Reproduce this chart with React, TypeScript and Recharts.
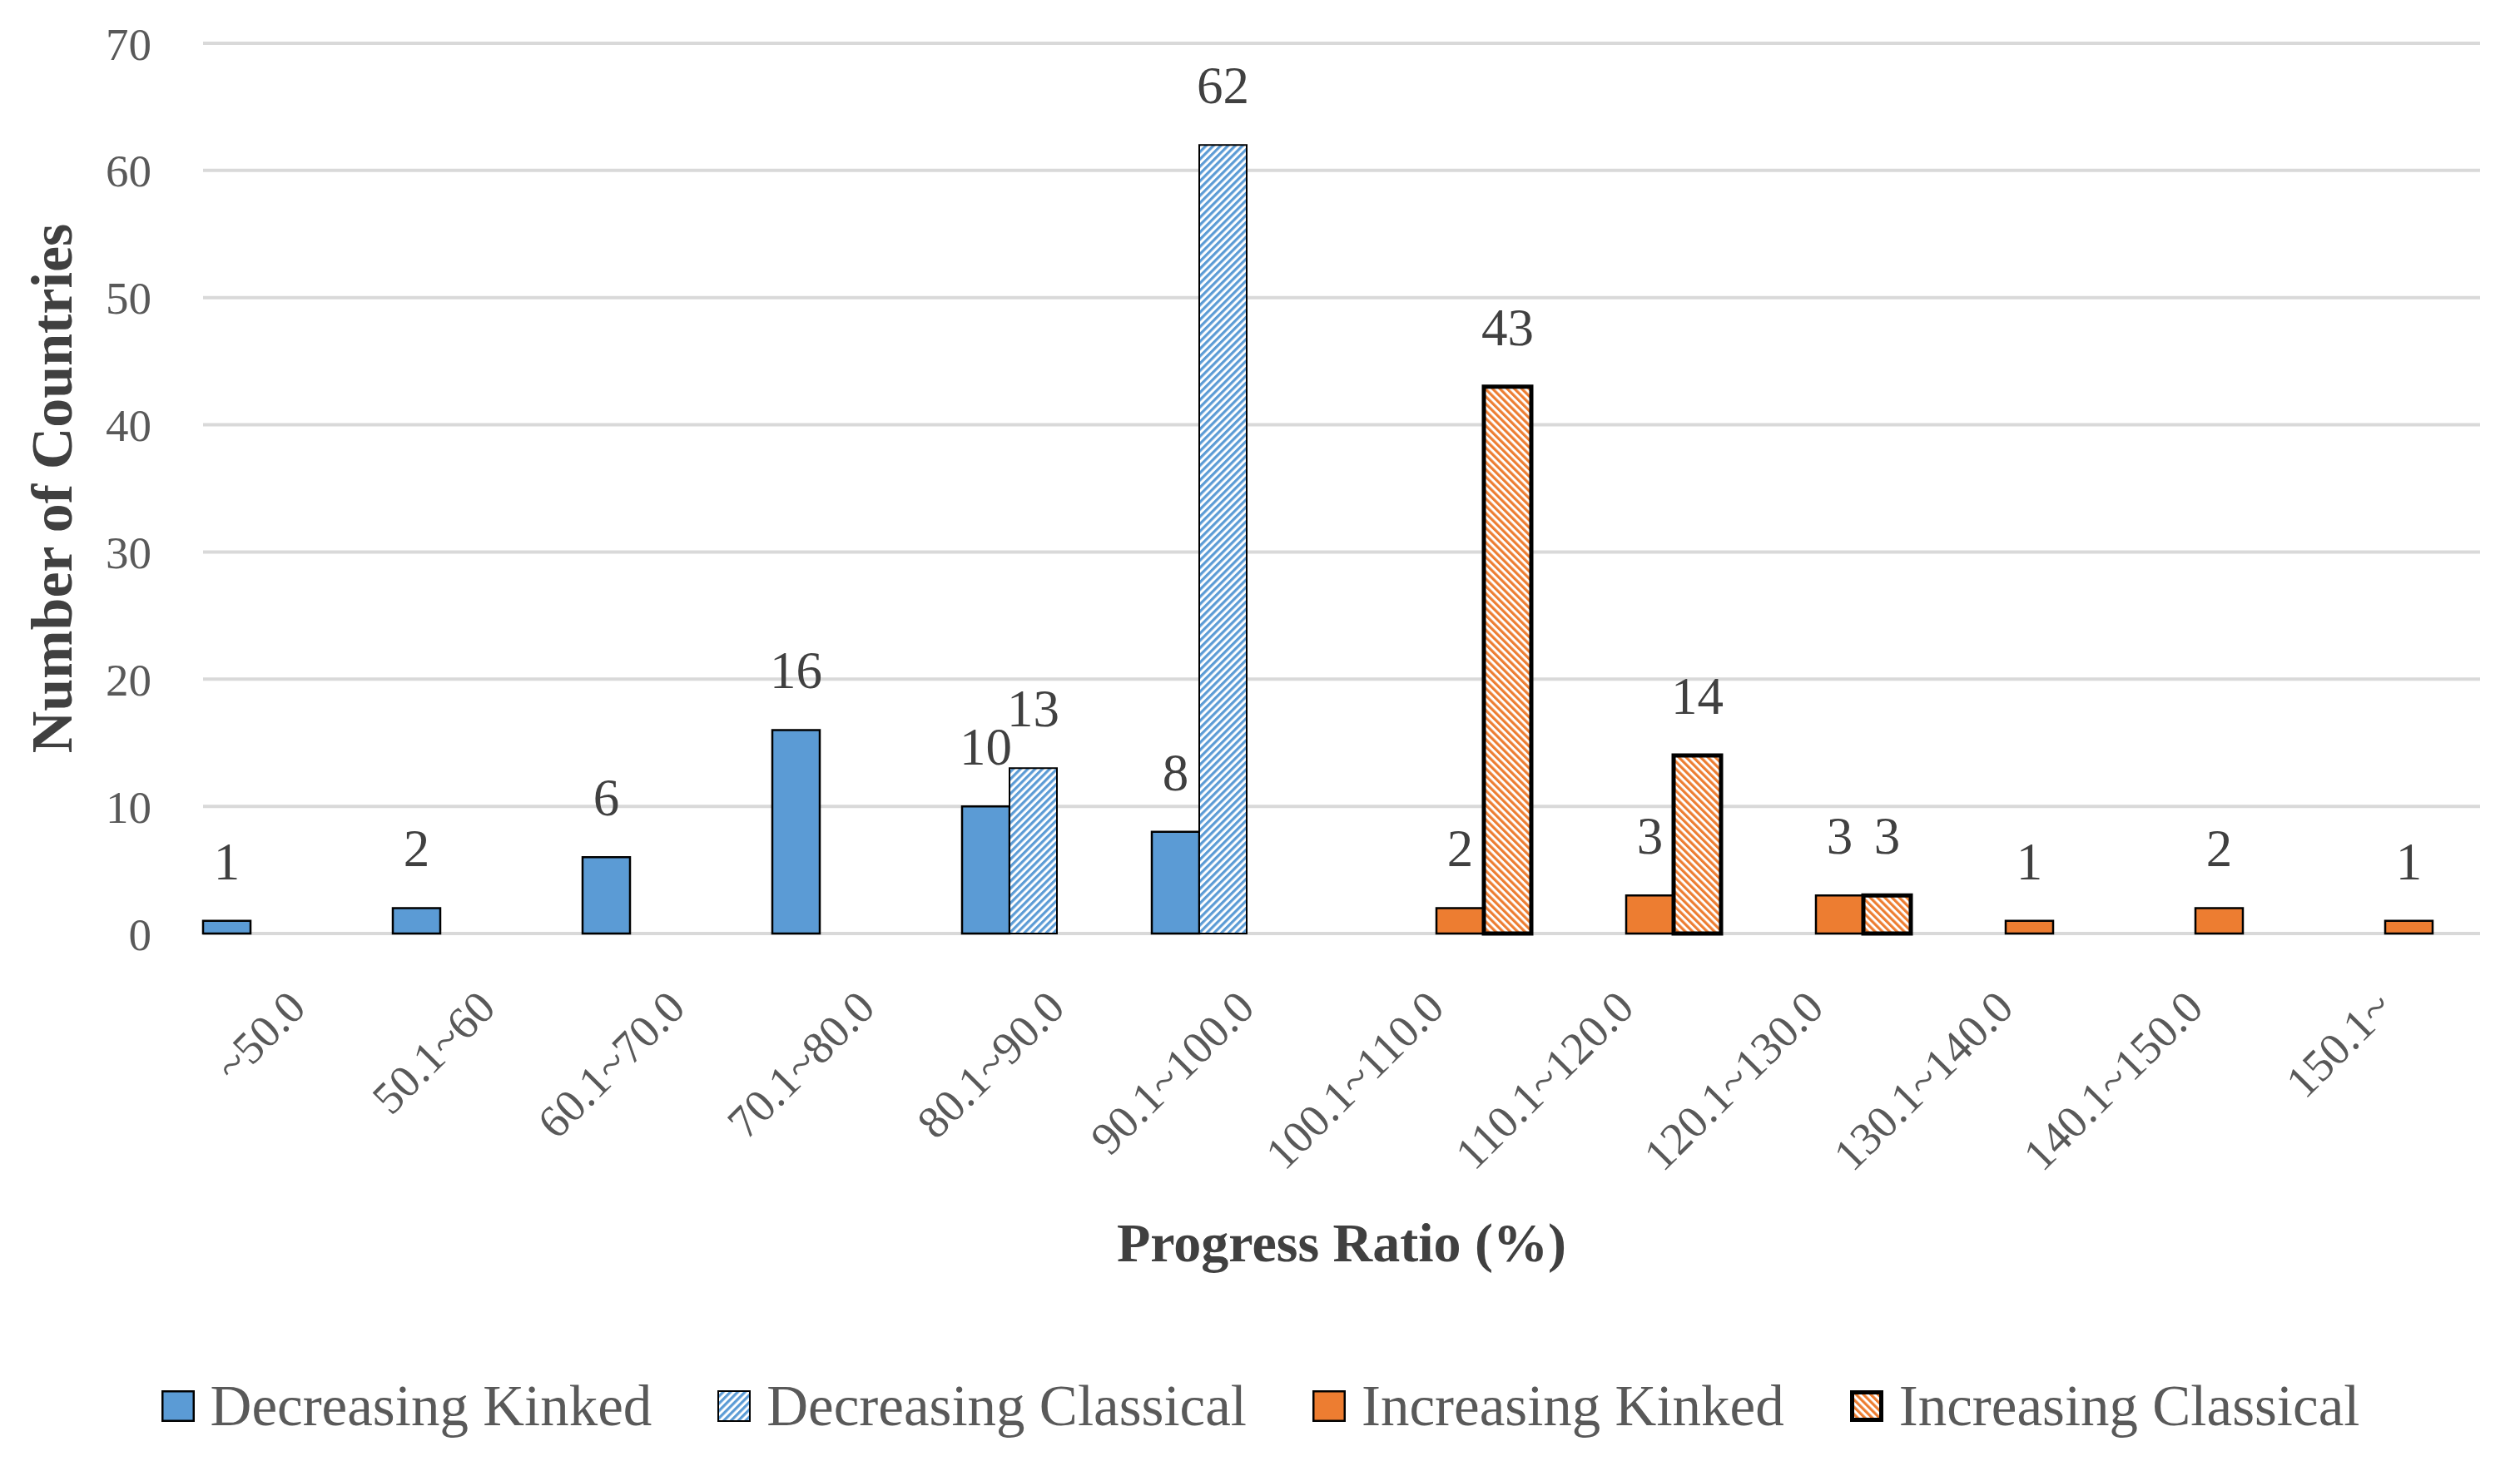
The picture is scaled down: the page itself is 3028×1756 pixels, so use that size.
import { BarChart, Bar, XAxis, YAxis, CartesianGrid, LabelList } from "recharts";

// ── Data ──────────────────────────────────────────────────────────────────────

const CATEGORIES = [
  "~50.0", "50.1~60", "60.1~70.0", "70.1~80.0", "80.1~90.0", "90.1~100.0",
  "100.1~110.0", "110.1~120.0", "120.1~130.0", "130.1~140.0", "140.1~150.0", "150.1~",
];
const DEC_KINKED    = [1, 2, 6, 16, 10, 8, 0, 0, 0, 0, 0, 0];
const DEC_CLASSICAL = [0, 0, 0, 0, 13, 62, 0, 0, 0, 0, 0, 0];
const INC_KINKED    = [0, 0, 0, 0, 0, 0, 2, 3, 3, 1, 2, 1];
const INC_CLASSICAL = [0, 0, 0, 0, 0, 0, 43, 14, 3, 0, 0, 0];
const Y_TICKS = [0, 10, 20, 30, 40, 50, 60, 70];

const data = CATEGORIES.map((c, i) => ({
  cat: c,
  decKinked: DEC_KINKED[i],
  decClassical: DEC_CLASSICAL[i],
  incKinked: INC_KINKED[i],
  incClassical: INC_CLASSICAL[i],
}));

// ── Style ─────────────────────────────────────────────────────────────────────

const FONT = '"Liberation Serif", "Times New Roman", serif';
const BLUE = "#5B9BD5";
const ORANGE = "#ED7D31";
const GRID = "#D9D9D9";
const TEXT = "#595959";
const DARK = "#404040";
const HATCH = 6.2;   // stripe period
const STRIPE = 3.2;  // coloured part of the period

const SERIES = [
  { key: "decKinked",    name: "Decreasing Kinked",    fill: BLUE,                stroke: "#000", sw: 2.5 },
  { key: "decClassical", name: "Decreasing Classical", fill: "url(#hatchBlue)",   stroke: "#000", sw: 2 },
  { key: "incKinked",    name: "Increasing Kinked",    fill: ORANGE,              stroke: "#000", sw: 2.5 },
  { key: "incClassical", name: "Increasing Classical", fill: "url(#hatchOrange)", stroke: "#000", sw: 5 },
];

function Hatch({ id, color, angle }: { id: string; color: string; angle: number }) {
  return (
    <pattern id={id} width={HATCH} height={HATCH} patternUnits="userSpaceOnUse" patternTransform={`rotate(${angle})`}>
      <rect width={HATCH} height={HATCH} fill="#fff" />
      <rect width={STRIPE} height={HATCH} fill={color} />
    </pattern>
  );
}

function XTick({ x, y, payload }: any) {
  const ax = x + 12;
  const ay = y + 92;
  return (
    <text
      x={ax}
      y={ay}
      transform={`rotate(-45 ${ax} ${ay})`}
      textAnchor="end"
      fontFamily={FONT}
      fontSize={55}
      fill={TEXT}
    >
      {payload.value}
    </text>
  );
}

function ValueLabel(props: any) {
  const { x, y, width, value } = props;
  if (!value) return null;
  return (
    <text x={x + width / 2} y={y - 50} textAnchor="middle" fontFamily={FONT} fontSize={63} fill={DARK}>
      {value}
    </text>
  );
}

function Swatch({ fill, sw, patternId }: { fill: string; sw: number; patternId?: string }) {
  return (
    <svg width={42} height={40} style={{ display: "block" }}>
      <defs>
        {patternId === "lgBlue" && <Hatch id="lgBlue" color={BLUE} angle={45} />}
        {patternId === "lgOrange" && <Hatch id="lgOrange" color={ORANGE} angle={-45} />}
      </defs>
      <rect
        x={sw / 2 + 1}
        y={sw / 2 + 1}
        width={40 - sw}
        height={38 - sw}
        fill={patternId ? `url(#${patternId})` : fill}
        stroke="#000"
        strokeWidth={sw}
      />
    </svg>
  );
}

// ── Component ─────────────────────────────────────────────────────────────────

export default function App() {
  return (
    <div style={{ position: "absolute", left: 0, top: 0, width: 3028, height: 1756, background: "#fff" }}>
      <BarChart
        width={3028}
        height={1756}
        data={data}
        margin={{ top: 52, right: 48, bottom: 0, left: 0 }}
        barCategoryGap={0}
        barGap={0}
      >
        <defs>
          <Hatch id="hatchBlue" color={BLUE} angle={45} />
          <Hatch id="hatchOrange" color={ORANGE} angle={-45} />
        </defs>

        <CartesianGrid vertical={false} stroke={GRID} strokeWidth={4} />

        <XAxis
          dataKey="cat"
          interval={0}
          height={634}
          axisLine={false}
          tickLine={false}
          tickSize={0}
          tickMargin={0}
          tick={<XTick />}
          label={({ viewBox }: any) => (
            <text
              x={viewBox.x + viewBox.width / 2}
              y={viewBox.y + 394}
              textAnchor="middle"
              fontFamily={FONT}
              fontWeight="bold"
              fontSize={66}
              fill={DARK}
            >
              Progress Ratio (%)
            </text>
          )}
        />

        <YAxis
          type="number"
          domain={[0, 70]}
          ticks={Y_TICKS}
          width={244}
          axisLine={false}
          tickLine={false}
          tickSize={0}
          tickMargin={62}
          tick={{ fontFamily: FONT, fontSize: 55, fill: TEXT }}
          label={({ viewBox }: any) => {
            const lx = viewBox.x + 86;
            const ly = viewBox.y + viewBox.height / 2;
            return (
              <text
                x={lx}
                y={ly}
                transform={`rotate(-90 ${lx} ${ly})`}
                textAnchor="middle"
                fontFamily={FONT}
                fontWeight="bold"
                fontSize={70}
                fill={DARK}
              >
                Number of Countries
              </text>
            );
          }}
        />

        {SERIES.map((s) => (
          <Bar
            key={s.key}
            dataKey={s.key}
            name={s.name}
            fill={s.fill}
            stroke={s.stroke}
            strokeWidth={s.sw}
            isAnimationActive={false}
          >
            <LabelList dataKey={s.key} content={<ValueLabel />} />
          </Bar>
        ))}
      </BarChart>

      {/* Legend */}
      <div
        style={{
          position: "absolute",
          left: 0,
          top: 1650,
          width: 3028,
          display: "flex",
          justifyContent: "center",
          alignItems: "center",
          gap: 78,
          fontFamily: FONT,
          fontSize: 69,
          color: TEXT,
        }}
      >
        {SERIES.map((s, i) => (
          <div key={s.key} style={{ display: "flex", alignItems: "center", gap: 18 }}>
            <Swatch
              fill={s.fill}
              sw={s.sw}
              patternId={i === 1 ? "lgBlue" : i === 3 ? "lgOrange" : undefined}
            />
            <span style={{ lineHeight: "80px" }}>{s.name}</span>
          </div>
        ))}
      </div>
    </div>
  );
}
